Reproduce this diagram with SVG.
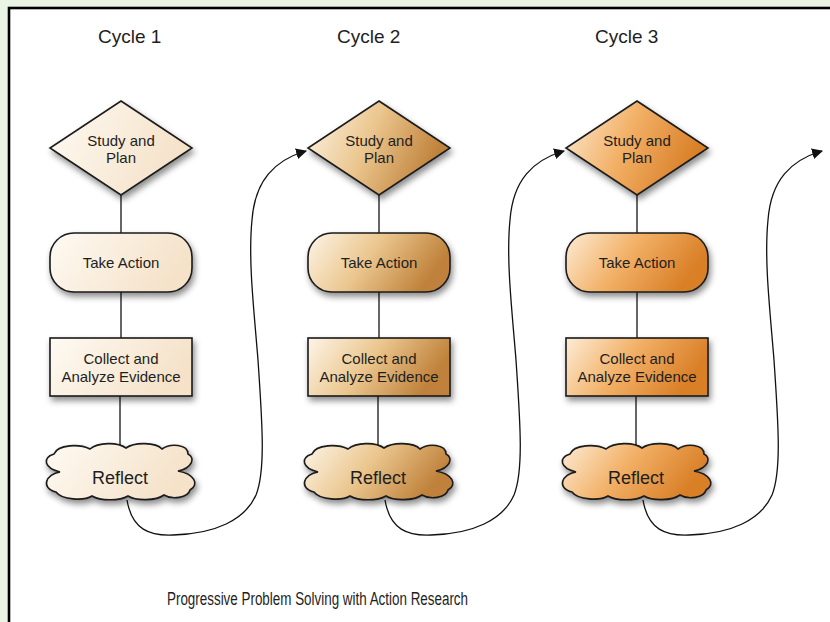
<svg xmlns="http://www.w3.org/2000/svg" width="830" height="622" viewBox="0 0 830 622">
<style>
  .t{font-family:"Liberation Sans",Arial,Helvetica,sans-serif;fill:#1e1e1e}
  .node{stroke:#1a1a1a;stroke-width:1.6}
  .conn{stroke:#333;stroke-width:1.5;fill:none}
  .curve{stroke:#111;stroke-width:1.3;fill:none;marker-end:url(#arr)}
</style>
<defs>
  <marker id="arr" viewBox="0 0 10 10" refX="9" refY="5" markerWidth="11" markerHeight="11" markerUnits="userSpaceOnUse" orient="auto">
    <path d="M0,0 L10,5 L0,10 z" fill="#111"/>
  </marker>
  <filter id="sh" x="-20%" y="-20%" width="150%" height="160%">
    <feDropShadow dx="2" dy="4" stdDeviation="3" flood-color="#000" flood-opacity="0.45"/>
  </filter>
  <linearGradient id="g1" x1="0" y1="0" x2="1" y2="0.3">
    <stop offset="0" stop-color="#fefaf3"/>
    <stop offset="1" stop-color="#f5e2c9"/>
  </linearGradient>
  <linearGradient id="g2" x1="0" y1="0" x2="1" y2="0.3">
    <stop offset="0" stop-color="#fdf5e8"/>
    <stop offset="0.5" stop-color="#ebc68e"/>
    <stop offset="1" stop-color="#bf813a"/>
  </linearGradient>
  <linearGradient id="g3" x1="0" y1="0" x2="1" y2="0.3">
    <stop offset="0" stop-color="#fdecd6"/>
    <stop offset="0.5" stop-color="#f2b066"/>
    <stop offset="1" stop-color="#d97f27"/>
  </linearGradient>
  <path id="cloud" d="M -66,-18 C -62,-28 -40,-28 -30,-23 C -22,-30 -2,-30 6,-24 C 14,-30 36,-30 42,-23 C 50,-29 68,-28 68,-18 C 76,-14 72,-4 58,-1 C 74,2 80,12 70,18 C 68,26 52,28 44,23 C 36,29 16,29 8,24 C 0,29 -20,29 -28,24 C -36,29 -58,28 -64,20 C -80,16 -74,2 -60,0 C -76,-4 -78,-14 -66,-18 Z"/>
</defs>

<rect x="0" y="0" width="830" height="622" fill="#eaf5e3"/>
<rect x="9" y="8" width="840" height="640" fill="#ffffff" stroke="#000" stroke-width="2.6"/>

<g id="labels" class="t" font-size="19">
  <text x="98" y="43">Cycle 1</text>
  <text x="337" y="43">Cycle 2</text>
  <text x="595" y="43">Cycle 3</text>
</g>

<g id="connectors">
  <line class="conn" x1="121" y1="195" x2="121" y2="233"/>
  <line class="conn" x1="121" y1="292" x2="121" y2="338"/>
  <line class="conn" x1="120" y1="396" x2="120" y2="446"/>
  <line class="conn" x1="379" y1="195" x2="379" y2="233"/>
  <line class="conn" x1="379" y1="292" x2="379" y2="338"/>
  <line class="conn" x1="378" y1="396" x2="378" y2="446"/>
  <line class="conn" x1="637" y1="195" x2="637" y2="233"/>
  <line class="conn" x1="637" y1="292" x2="637" y2="338"/>
  <line class="conn" x1="636" y1="396" x2="636" y2="446"/>
  <path class="curve" d="M127,500 C132,530 150,536 173,535 C215,534 245,520 256,495 C266,470 262,420 258,360 C254,310 248,260 252,220 C255,180 275,160 306,151"/>
  <path class="curve" d="M385,500 C390,530 408,536 431,535 C473,534 503,520 514,495 C524,470 520,420 516,360 C512,310 506,260 510,220 C513,180 533,160 564,151"/>
  <path class="curve" d="M643,500 C648,530 666,536 689,535 C731,534 761,520 772,495 C782,470 778,420 774,360 C770,310 764,260 768,220 C771,180 791,160 822,151"/>
</g>

<g id="cycle1-study">
  <polygon class="node" filter="url(#sh)" fill="url(#g1)" points="121,101 192,148 121,195 50,148"/>
  <text class="t" font-size="15" text-anchor="middle" x="121" y="146">Study and</text>
  <text class="t" font-size="15" text-anchor="middle" x="121" y="163">Plan</text>
</g>
<g id="cycle1-action">
  <rect class="node" filter="url(#sh)" fill="url(#g1)" x="50" y="233" width="142" height="59" rx="24"/>
  <text class="t" font-size="15" text-anchor="middle" x="121" y="268">Take Action</text>
</g>
<g id="cycle1-collect">
  <rect class="node" filter="url(#sh)" fill="url(#g1)" x="50" y="338" width="142" height="58"/>
  <text class="t" font-size="15" text-anchor="middle" x="121" y="364">Collect and</text>
  <text class="t" font-size="15" text-anchor="middle" x="121" y="382">Analyze Evidence</text>
</g>
<g id="cycle1-reflect">
  <use href="#cloud" class="node" filter="url(#sh)" fill="url(#g1)" transform="translate(120,472)"/>
  <text class="t" font-size="18" text-anchor="middle" x="120" y="484">Reflect</text>
</g>

<g id="cycle2-study">
  <polygon class="node" filter="url(#sh)" fill="url(#g2)" points="379,101 450,148 379,195 308,148"/>
  <text class="t" font-size="15" text-anchor="middle" x="379" y="146">Study and</text>
  <text class="t" font-size="15" text-anchor="middle" x="379" y="163">Plan</text>
</g>
<g id="cycle2-action">
  <rect class="node" filter="url(#sh)" fill="url(#g2)" x="308" y="233" width="142" height="59" rx="24"/>
  <text class="t" font-size="15" text-anchor="middle" x="379" y="268">Take Action</text>
</g>
<g id="cycle2-collect">
  <rect class="node" filter="url(#sh)" fill="url(#g2)" x="308" y="338" width="142" height="58"/>
  <text class="t" font-size="15" text-anchor="middle" x="379" y="364">Collect and</text>
  <text class="t" font-size="15" text-anchor="middle" x="379" y="382">Analyze Evidence</text>
</g>
<g id="cycle2-reflect">
  <use href="#cloud" class="node" filter="url(#sh)" fill="url(#g2)" transform="translate(378,472)"/>
  <text class="t" font-size="18" text-anchor="middle" x="378" y="484">Reflect</text>
</g>

<g id="cycle3-study">
  <polygon class="node" filter="url(#sh)" fill="url(#g3)" points="637,101 708,148 637,195 566,148"/>
  <text class="t" font-size="15" text-anchor="middle" x="637" y="146">Study and</text>
  <text class="t" font-size="15" text-anchor="middle" x="637" y="163">Plan</text>
</g>
<g id="cycle3-action">
  <rect class="node" filter="url(#sh)" fill="url(#g3)" x="566" y="233" width="142" height="59" rx="24"/>
  <text class="t" font-size="15" text-anchor="middle" x="637" y="268">Take Action</text>
</g>
<g id="cycle3-collect">
  <rect class="node" filter="url(#sh)" fill="url(#g3)" x="566" y="338" width="142" height="58"/>
  <text class="t" font-size="15" text-anchor="middle" x="637" y="364">Collect and</text>
  <text class="t" font-size="15" text-anchor="middle" x="637" y="382">Analyze Evidence</text>
</g>
<g id="cycle3-reflect">
  <use href="#cloud" class="node" filter="url(#sh)" fill="url(#g3)" transform="translate(636,472)"/>
  <text class="t" font-size="18" text-anchor="middle" x="636" y="484">Reflect</text>
</g>

<text id="title" class="t" font-size="18" x="167" y="605" textLength="301" lengthAdjust="spacingAndGlyphs">Progressive Problem Solving with Action Research</text>
</svg>
